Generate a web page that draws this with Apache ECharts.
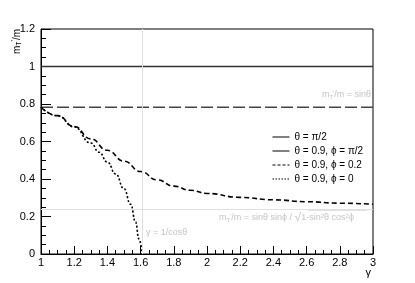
<!DOCTYPE html>
<html><head><meta charset="utf-8">
<script src="https://cdn.jsdelivr.net/npm/echarts@6/dist/echarts.min.js"></script>
<style>html,body{margin:0;padding:0;background:#fff}#c{width:415px;height:283px}</style>
</head><body><div id="c"></div>
<script>
// ---- data ----
const xTicks = [1, 1.2, 1.4, 1.6, 1.8, 2, 2.2, 2.4, 2.6, 2.8, 3];
const yTicks = [0, 0.2, 0.4, 0.6, 0.8, 1, 1.2];
const gammaFlat = [1, 3];
const halfPiValues = [1, 1];            // θ = π/2
const sinThetaValues = [0.783, 0.783];  // θ = 0.9, ϕ = π/2
const gammaDashed = [1.0, 1.1, 1.2, 1.3, 1.4, 1.5, 1.6, 1.7, 1.8, 1.9, 2.0, 2.2, 2.4, 2.6, 2.8, 3.0];
const phi02Values = [0.783, 0.738, 0.680, 0.614, 0.553, 0.495, 0.440, 0.395, 0.362, 0.340, 0.323, 0.302, 0.289, 0.279, 0.271, 0.265];
const gammaDotted = [1.0, 1.1, 1.2, 1.3, 1.35, 1.4, 1.45, 1.5, 1.54, 1.57, 1.59, 1.609];
const phi0Values = [0.783, 0.737, 0.678, 0.592, 0.543, 0.490, 0.427, 0.348, 0.265, 0.170, 0.080, 0];
const refGamma = [1.609];   // γ = 1/cosθ
const refLevel = [0.243];   // asymptote
const seriesNames = ['θ = π/2', 'θ = 0.9, ϕ = π/2', 'θ = 0.9, ϕ = 0.2', 'θ = 0.9, ϕ = 0'];

const pair = (xs, ys) => xs.map((x, i) => [x, ys[i]]);
const F = 'Liberation Sans, Arial, Helvetica, sans-serif';
const gray = '#c4c4c4';

const chart = echarts.init(document.getElementById('c'), null, {renderer: 'canvas'});
chart.setOption({
  animation: false,
  backgroundColor: '#fff',
  grid: {left: 41, right: 42, top: 29, bottom: 29, show: true, borderColor: '#000', borderWidth: 1, backgroundColor: 'transparent'},
  xAxis: {
    type: 'value', min: xTicks[0], max: xTicks[xTicks.length - 1], interval: 0.2,
    axisLine: {lineStyle: {color: '#000', width: 1}},
    axisTick: {inside: true, length: 8, lineStyle: {color: '#000'}},
    minorTick: {show: true, splitNumber: 4, length: 4, lineStyle: {color: '#000'}},
    splitLine: {show: false},
    axisLabel: {color: '#000', fontFamily: F, fontSize: 11, margin: 3, formatter: v => String(+v.toFixed(1))}
  },
  yAxis: {
    type: 'value', min: yTicks[0], max: yTicks[yTicks.length - 1], interval: 0.2,
    axisLine: {show: true, lineStyle: {color: '#000', width: 1}},
    axisTick: {show: true, inside: true, length: 10, lineStyle: {color: '#000'}},
    minorTick: {show: true, splitNumber: 4, length: 5, lineStyle: {color: '#000'}},
    splitLine: {show: false},
    axisLabel: {color: '#000', fontFamily: F, fontSize: 11, margin: 6, formatter: v => String(+v.toFixed(1))}
  },
  legend: {
    show: true,
    orient: 'vertical', left: 267, top: 127, itemWidth: 17, itemHeight: 10, itemGap: 4,
    textStyle: {fontFamily: F, fontSize: 10, color: '#000'},
    itemStyle: {opacity: 0},
    lineStyle: {width: 1, color: '#000'},
    data: [
      {name: seriesNames[0]},
      {name: seriesNames[1], lineStyle: {type: 'solid'}},
      {name: seriesNames[2], lineStyle: {type: [3, 2]}},
      {name: seriesNames[3], lineStyle: {type: [1.5, 1.5]}}
    ]
  },
  series: [
    {name: seriesNames[0], type: 'line', symbol: 'none', data: pair(gammaFlat, halfPiValues),
     itemStyle: {color: '#000'},
     lineStyle: {color: '#333', width: 1.6, type: 'solid'}, z: 3},
    {name: seriesNames[1], type: 'line', symbol: 'none', data: pair(gammaFlat, sinThetaValues),
     itemStyle: {color: '#000'},
     lineStyle: {color: '#444', width: 1.6, type: [12, 4]}, z: 3,
     markLine: {
       silent: true, symbol: 'none', animation: false,
       lineStyle: {color: '#e0e0e0', width: 1, type: 'solid'},
       label: {show: false},
       data: [{xAxis: refGamma[0]}, {yAxis: refLevel[0]}]
     }},
    {name: seriesNames[2], type: 'line', symbol: 'none', data: pair(gammaDashed, phi02Values),
     smooth: 0.5, smoothMonotone: 'x', itemStyle: {color: '#000'},
     lineStyle: {color: '#000', width: 1.6, type: [5, 3]}, z: 4},
    {name: seriesNames[3], type: 'line', symbol: 'none', data: pair(gammaDotted, phi0Values),
     smooth: 0.5, smoothMonotone: 'x', itemStyle: {color: '#000'},
     lineStyle: {color: '#000', width: 1.6, type: [2, 2]}, z: 4}
  ],
  graphic: [
    {type: 'text', x: 17, y: 54, rotation: Math.PI / 2,
     style: {text: '{m|m}{s|T}{p|\'}{m|/m}', fill: '#000', align: 'left', verticalAlign: 'middle',
       rich: {m: {fontFamily: F, fontSize: 10, fill: '#000'}, s: {fontFamily: F, fontSize: 7, fill: '#000', padding: [4, 0, 0, 0]}, p: {fontFamily: F, fontSize: 7, fill: '#000', padding: [0, 0, 5, 0]}}}},
    {type: 'text', x: 371, y: 278,
     style: {text: 'γ', fontFamily: F, fontSize: 11, fill: '#000', align: 'right', verticalAlign: 'bottom'}},
    {type: 'text', x: 371, y: 100,
     style: {text: '{m|m}{s|T}{p|\'}{m|/m = sinθ}', align: 'right', verticalAlign: 'bottom',
       rich: {m: {fontFamily: F, fontSize: 9, fill: gray}, s: {fontFamily: F, fontSize: 6, fill: gray, padding: [4, 0, 0, 0]}, p: {fontFamily: F, fontSize: 6, fill: gray, padding: [0, 0, 4, 0]}}}},
    {type: 'text', x: 219, y: 218,
     style: {text: '{m|m}{s|T}{p|\'}{m|/m = sinθ sinϕ / }{r|√}{m|1-sin}{p|2}{m|θ cos}{p|2}{m|ϕ}', align: 'left', verticalAlign: 'middle',
       rich: {m: {fontFamily: F, fontSize: 9, fill: gray}, r: {fontFamily: F, fontSize: 12, fill: gray}, s: {fontFamily: F, fontSize: 6, fill: gray, padding: [4, 0, 0, 0]}, p: {fontFamily: F, fontSize: 6, fill: gray, padding: [0, 0, 4, 0]}}}},
    {type: 'line', shape: {x1: 308, y1: 210, x2: 367, y2: 210}, style: {stroke: gray, lineWidth: 1}},
    {type: 'text', x: 146, y: 233,
     style: {text: 'γ = 1/cosθ', fontFamily: F, fontSize: 9, fill: gray, align: 'left', verticalAlign: 'middle'}}
  ]
});
</script></body></html>
